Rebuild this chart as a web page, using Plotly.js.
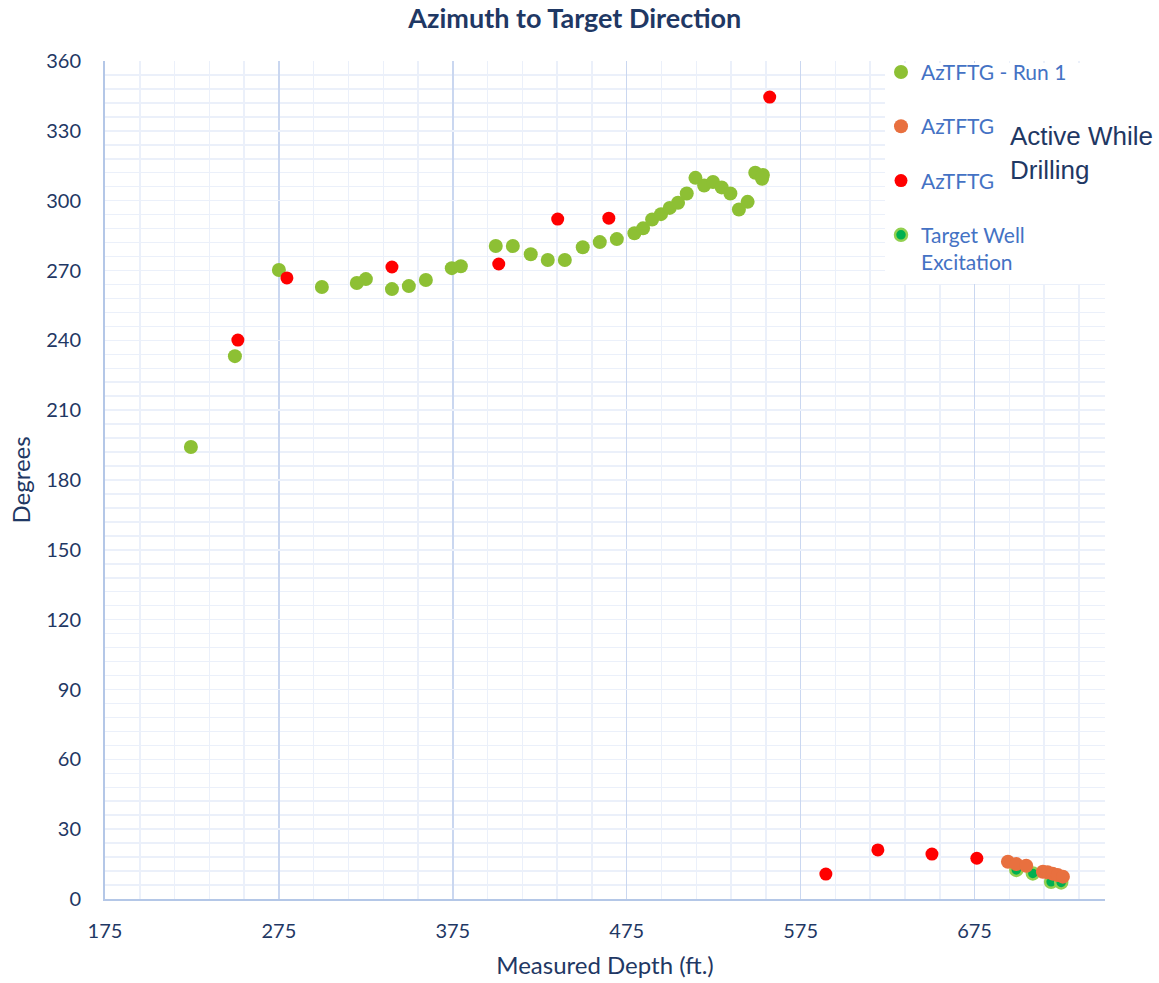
<!DOCTYPE html>
<html>
<head>
<meta charset="utf-8">
<script src="https://cdn.plot.ly/plotly-3.0.1.min.js"></script>
<style>html,body{margin:0;padding:0;background:#fff;}#chart{width:1159px;height:983px;}</style>
</head>
<body>
<div id="chart"></div>
<script>
// AzTFTG - Run 1
const run1Depth = [224.4, 249.7, 275.0, 299.7, 319.8, 325.0, 340.0, 349.7, 359.5, 374.4, 379.6, 399.7, 409.5, 419.8, 429.6, 439.4, 449.7, 459.5, 469.3, 479.4, 484.4, 489.6, 494.7, 499.7, 504.5, 509.5, 514.5, 519.5, 524.6, 529.6, 534.6, 539.5, 544.5, 548.9, 553.3, 552.8];
const run1Az    = [194.2, 233.2, 270.2, 262.9, 264.6, 266.3, 262.0, 263.3, 265.9, 271.0, 271.8, 280.5, 280.5, 277.0, 274.5, 274.5, 280.0, 282.2, 283.5, 286.0, 288.1, 291.9, 294.2, 296.9, 299.1, 303.1, 309.8, 306.5, 308.0, 305.7, 303.1, 296.2, 299.5, 312.0, 311.0, 309.4];

// AzTFTG (orange, Active While Drilling)
const awdDepth = [694.2, 699.0, 704.7, 714.3, 717.0, 719.9, 722.8, 725.8];
const awdAz    = [16.0, 15.0, 14.3, 11.7, 11.5, 10.9, 10.3, 9.6];

// AzTFTG (red)
const redDepth = [251.4, 279.6, 340.0, 401.4, 435.3, 464.7, 557.2, 589.5, 619.4, 650.5, 676.3];
const redAz    = [240.1, 266.8, 271.5, 272.8, 292.1, 292.5, 344.5, 10.7, 21.1, 19.3, 17.5];

// Target Well Excitation
const tweDepth = [699.0, 708.5, 719.0, 724.8];
const tweAz    = [12.5, 11.0, 7.4, 7.1];

const xTickVals = [175, 275, 375, 475, 575, 675];
const yTickVals = [0, 30, 60, 90, 120, 150, 180, 210, 240, 270, 300, 330, 360];

const navy = '#1F3864';
const legendBlue = '#4472C4';
const baseFont = 'Lato, "Open Sans", sans-serif';

const traces = [
  {x: run1Depth, y: run1Az, type: 'scatter', mode: 'markers', name: 'AzTFTG - Run 1',
   legendgroup: 'g1', legendrank: 1,
   marker: {color: '#8DC034', size: 14}},
  {x: tweDepth, y: tweAz, type: 'scatter', mode: 'markers', name: 'Target Well<br>Excitation',
   legendgroup: 'g4', legendrank: 4,
   marker: {color: '#00B050', size: 12, line: {color: '#92D050', width: 2.5}}},
  {x: awdDepth, y: awdAz, type: 'scatter', mode: 'markers', name: 'AzTFTG',
   legendgroup: 'g2', legendrank: 2,
   marker: {color: '#E8703F', size: 14}},
  {x: redDepth, y: redAz, type: 'scatter', mode: 'markers', name: 'AzTFTG',
   legendgroup: 'g3', legendrank: 3,
   marker: {color: '#FF0000', size: 13}}
];

const layout = {
  width: 1159, height: 983,
  paper_bgcolor: '#ffffff', plot_bgcolor: '#ffffff',
  margin: {l: 105, r: 54, t: 61, b: 84},
  font: {family: baseFont, color: navy, size: 20},
  title: {text: '<b>Azimuth to Target Direction</b>', x: 0.496, xanchor: 'center',
          y: 1 - 19/983, yanchor: 'middle', yref: 'container',
          font: {family: baseFont, size: 27, color: navy}},
  xaxis: {
    range: [175, 750], tickvals: xTickVals, ticktext: xTickVals.map(String),
    showgrid: true, gridcolor: '#CAD7F0', gridwidth: 1.5,
    minor: {dtick: 20, tick0: 175, showgrid: true, gridcolor: '#EBF0FA', gridwidth: 1.5},
    showline: true, linecolor: '#B4C7E7', linewidth: 2,
    zeroline: false, ticks: '', ticklabelstandoff: 13,
    tickfont: {size: 20, color: navy},
    title: {text: 'Measured Depth (ft.)', font: {size: 24, color: navy}, standoff: 16}
  },
  yaxis: {
    range: [0, 360], tickvals: yTickVals, ticktext: yTickVals.map(String),
    showgrid: true, gridcolor: '#EBF0FA', gridwidth: 1.5,
    minor: {dtick: 6, tick0: 0, showgrid: true, gridcolor: '#EBF0FA', gridwidth: 1.5},
    showline: true, linecolor: '#B4C7E7', linewidth: 2,
    zeroline: false, ticks: '', ticklabelstandoff: 18,
    tickfont: {size: 20, color: navy},
    title: {text: 'Degrees', font: {size: 24, color: navy}, standoff: 9}
  },
  showlegend: true,
  legend: {
    x: 0.776, xanchor: 'left', y: 1.011, yanchor: 'top',
    bgcolor: 'rgba(255,255,255,0)', borderwidth: 0,
    font: {size: 21, color: legendBlue, family: baseFont},
    traceorder: 'grouped', tracegroupgap: 24, valign: 'top'
  },
  shapes: [
    {type: 'rect', xref: 'paper', yref: 'paper', x0: 0.78, x1: 1.0, y0: (899-284)/838, y1: (899-63)/838,
     fillcolor: '#ffffff', line: {width: 0}, layer: 'above'}
  ],
  annotations: [
    {text: 'Active While<br>Drilling', xref: 'paper', yref: 'paper',
     x: (1008-105)/1000, xanchor: 'left', y: (899-153)/838, yanchor: 'middle',
     showarrow: false, align: 'left',
     font: {family: '"Liberation Sans", Arial, sans-serif', size: 26, color: navy}}
  ]
};

Plotly.newPlot('chart', traces, layout, {displayModeBar: false, staticPlot: true});
</script>
</body>
</html>
